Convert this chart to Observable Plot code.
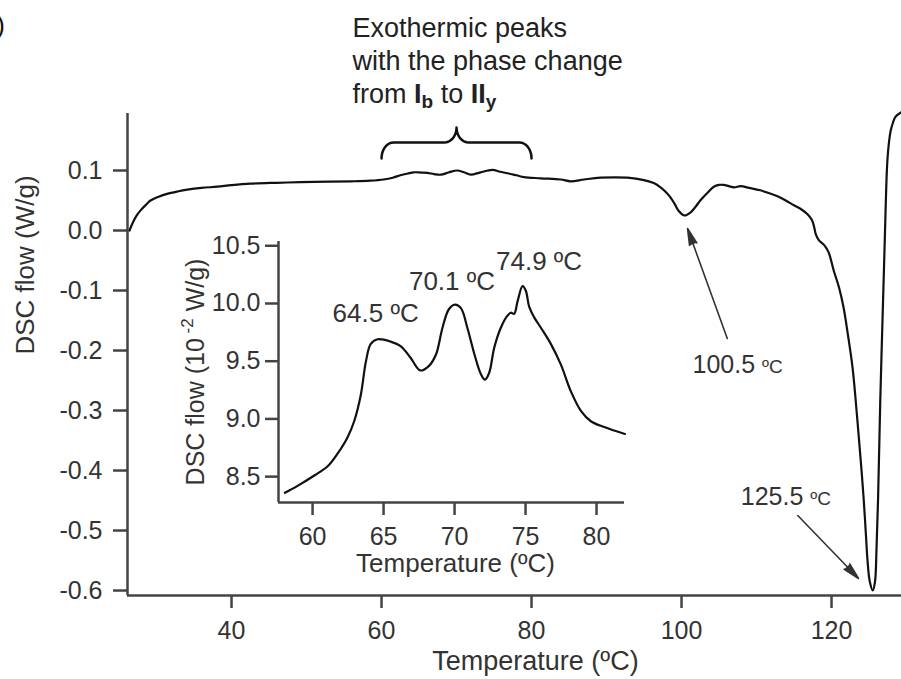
<!DOCTYPE html>
<html><head><meta charset="utf-8">
<script src="https://cdn.jsdelivr.net/npm/d3@7"></script>
<script src="https://cdn.jsdelivr.net/npm/@observablehq/plot@0.6"></script>
<style>
body{margin:0;background:#fff}
#wrap{position:relative;width:901px;height:679px;overflow:hidden;background:#fff}
#main{position:absolute;left:0;top:0}
#inset{position:absolute;left:170px;top:225px}
</style></head><body><div id="wrap"><div id="main"></div><div id="inset"></div></div>
<script>
// ---------- data ----------
const mainTemp = [26.4,26.8,27.3,27.9,28.6,29.2,30.2,31.4,32.8,34.1,36.0,38.1,40.0,42.5,46.0,49.2,53.0,56.0,58.5,60.3,61.5,62.5,63.5,64.3,65.3,66.1,67.0,67.9,69.0,70.1,71.0,71.9,73.2,74.8,75.8,76.8,78.0,79.0,81.2,83.9,85.2,87.0,89.2,92.8,95.0,96.3,97.2,98.0,98.5,99.1,99.6,100.4,101.2,101.9,102.5,103.4,104.3,105.0,105.6,106.3,107.0,107.9,109.0,110.5,112.8,113.9,115.0,116.0,116.8,117.4,117.7,117.9,118.3,119.0,119.6,120.3,121.0,121.6,122.2,122.8,123.2,123.6,124.0,124.3,124.6,124.8,125.1,125.5,125.8,126.0,126.2,126.5,126.75,127.0,127.2,127.4,127.6,127.9,128.2,128.5,129.3];
const mainFlow = [0.000,0.012,0.024,0.034,0.043,0.050,0.056,0.061,0.065,0.068,0.071,0.073,0.0755,0.078,0.0795,0.0805,0.0815,0.082,0.083,0.085,0.088,0.092,0.095,0.097,0.0965,0.096,0.094,0.093,0.097,0.100,0.097,0.093,0.097,0.101,0.098,0.0955,0.092,0.089,0.087,0.085,0.082,0.085,0.088,0.088,0.084,0.079,0.072,0.063,0.0555,0.044,0.033,0.025,0.030,0.040,0.050,0.062,0.073,0.076,0.076,0.074,0.072,0.074,0.071,0.067,0.057,0.050,0.042,0.035,0.027,0.017,0.005,-0.006,-0.016,-0.024,-0.036,-0.067,-0.095,-0.128,-0.175,-0.228,-0.28,-0.339,-0.40,-0.45,-0.51,-0.55,-0.585,-0.600,-0.585,-0.53,-0.45,-0.283,-0.17,-0.061,0.03,0.1055,0.14,0.167,0.18,0.189,0.197];

const insetTemp = [58.05,58.94,60.12,61.06,61.76,62.46,62.93,63.40,63.76,64.1,64.58,65.5,66.2,66.9,67.58,68.2,68.7,69.15,69.6,70.02,70.45,70.9,71.4,71.85,72.14,72.44,72.8,73.26,73.7,73.97,74.2,74.44,74.79,75.02,75.26,75.61,76.08,76.78,77.49,78.19,78.9,79.6,80.54,82.0];
const insetFlow = [8.36,8.42,8.51,8.59,8.70,8.84,8.98,9.21,9.50,9.65,9.69,9.67,9.63,9.53,9.42,9.46,9.56,9.79,9.95,9.99,9.96,9.79,9.56,9.39,9.34,9.40,9.62,9.79,9.89,9.92,9.91,10.02,10.15,10.11,9.97,9.88,9.79,9.65,9.47,9.24,9.07,8.98,8.93,8.87];

const mainXDomain = [26.13, 129.33];
const mainYDomain = [-0.6083, 0.195];
const mainXTicks = [40, 60, 80, 100, 120];
const mainYTicks = [0.1, 0.0, -0.1, -0.2, -0.3, -0.4, -0.5, -0.6];
const insetXDomain = [57.6, 81.97];
const insetYDomain = [8.276, 10.537];
const insetXTicks = [60, 65, 70, 75, 80];
const insetYTicks = [8.5, 9.0, 9.5, 10.0, 10.5];

const mainXLabel = "Temperature (ºC)";
const mainYLabel = "DSC flow (W/g)";
const insetXLabel = "Temperature (ºC)";
const insetYLabel = "DSC flow (10^-2 W/g)";

const peakLabels = ["64.5 ºC", "70.1 ºC", "74.9 ºC"];
const peakLabelTemp = [64.44, 69.82, 75.95];
const peakLabelFlow = [9.84, 10.113, 10.286];

const noteLines = ["Exothermic peaks", "with the phase change", "from Ib to IIy"];
const noteTemp = [56.13, 56.13, 56.13];
const noteFlow = [0.3217, 0.2667, 0.2133];

const braceSpan = [60, 80];
const braceLevels = [0.12, 0.1467, 0.1717];

const arrowLabels = ["100.5 ºC", "125.5 ºC"];
const arrowLabelTemp = [101.47, 107.9];
const arrowLabelFlow = [-0.2367, -0.458];
const arrowFromTemp = [106.1, 115.5];
const arrowFromFlow = [-0.18, -0.475];
const arrowToTemp = [100.8, 123.6];
const arrowToFlow = [0.0033, -0.58];

const panelTag = ["(b)"];
const panelTagTemp = [9.77];
const panelTagFlow = [0.3267];

// ---------- build ----------
const FONT = "'Liberation Sans', Arial, Helvetica, sans-serif";
const AX = "#444";
const mainData = mainTemp.map((t, i) => ({t, v: mainFlow[i]}));
const insetData = insetTemp.map((t, i) => ({t, v: insetFlow[i]}));

// brace shape from its span and levels
const bracePts = [];
(function(){
  const [a, b] = braceSpan, [lo, mid, hi] = braceLevels, r = 1.6, n = 10;
  const mid0 = (a + b) / 2;
  for (let k = 0; k <= n; k++) { const th = Math.PI - k * Math.PI / 2 / n; bracePts.push({t: a + r * (1 + Math.cos(th)), v: lo + (mid - lo) * Math.sin(th)}); }
  for (let k = 0; k <= n; k++) { const th = 1.5 * Math.PI + k * Math.PI / 2 / n; bracePts.push({t: mid0 - r + r * Math.cos(th), v: hi + (hi - mid) * Math.sin(th)}); }
  for (let k = 0; k <= n; k++) { const th = Math.PI + k * Math.PI / 2 / n; bracePts.push({t: mid0 + r + r * Math.cos(th), v: hi + (hi - mid) * Math.sin(th)}); }
  for (let k = 0; k <= n; k++) { const th = Math.PI / 2 - k * Math.PI / 2 / n; bracePts.push({t: b - r + r * Math.cos(th), v: lo + (mid - lo) * Math.sin(th)}); }
})();

const arrows = arrowFromTemp.map((t, i) => ({x1: t, y1: arrowFromFlow[i], x2: arrowToTemp[i], y2: arrowToFlow[i]}));

const main = Plot.plot({
  width: 901, height: 679,
  marginLeft: 127, marginTop: 113, marginBottom: 84, marginRight: 0,
  style: {fontFamily: FONT, fontSize: "25px", color: "#333", background: "white", overflow: "visible"},
  x: {domain: mainXDomain},
  y: {domain: mainYDomain},
  marks: [
    Plot.axisX({ticks: mainXTicks, tickSize: 13, tickPadding: 13, tickFormat: d => String(d), label: null, stroke: AX, strokeWidth: 2.5, fontSize: 25}),
    Plot.axisY({ticks: mainYTicks, tickSize: 14, tickPadding: 11, tickFormat: d => d.toFixed(1), label: null, stroke: AX, strokeWidth: 2.5, fontSize: 25}),
    Plot.ruleX([mainXDomain[0]], {stroke: AX, strokeWidth: 2.5}),
    Plot.ruleY([mainYDomain[0]], {stroke: AX, strokeWidth: 2.5}),
    Plot.line(mainData, {x: "t", y: "v", curve: "catmull-rom", stroke: "#111", strokeWidth: 2.2}),
    Plot.line(bracePts, {x: "t", y: "v", stroke: "#111", strokeWidth: 2.5}),
    Plot.text(noteLines, {x: (d, i) => noteTemp[i], y: (d, i) => noteFlow[i], text: d => d, textAnchor: "start", lineAnchor: "bottom", fontSize: 27, fill: "#222"}),
    Plot.arrow(arrows, {x1: "x1", y1: "y1", x2: "x2", y2: "y2", stroke: "#333", strokeWidth: 1.6, headAngle: 26, headLength: 16}),
    Plot.text(arrowLabels, {x: (d, i) => arrowLabelTemp[i], y: (d, i) => arrowLabelFlow[i], text: d => d, textAnchor: "start", lineAnchor: "bottom", fontSize: 25, fill: "#333"}),
    Plot.text(panelTag, {x: (d, i) => panelTagTemp[i], y: (d, i) => panelTagFlow[i], text: d => d, textAnchor: "end", lineAnchor: "bottom", fontSize: 26, fill: "#111"}),
    Plot.text([mainXLabel], {frameAnchor: "bottom", dx: 21, dy: 66, text: d => d, lineAnchor: "middle", fontSize: 27, fill: "#333"}),
    Plot.text([mainYLabel], {frameAnchor: "left", dx: -102, rotate: -90, text: d => d, lineAnchor: "middle", fontSize: 26, fill: "#333"})
  ]
});

const inset = Plot.plot({
  width: 470, height: 375,
  marginLeft: 108, marginTop: 16, marginRight: 16, marginBottom: 98,
  style: {fontFamily: FONT, fontSize: "25px", color: "#333", background: "transparent", overflow: "visible"},
  x: {domain: insetXDomain},
  y: {domain: insetYDomain},
  marks: [
    Plot.axisX({ticks: insetXTicks, tickSize: 13, tickPadding: 12, tickFormat: d => String(d), label: null, stroke: AX, strokeWidth: 2.5, fontSize: 25}),
    Plot.axisY({ticks: insetYTicks, tickSize: 13, tickPadding: 5, tickFormat: d => d.toFixed(1), label: null, stroke: AX, strokeWidth: 2.5, fontSize: 25}),
    Plot.ruleX([insetXDomain[0]], {stroke: AX, strokeWidth: 2.5}),
    Plot.ruleY([insetYDomain[0]], {stroke: AX, strokeWidth: 2.5}),
    Plot.line(insetData, {x: "t", y: "v", curve: "catmull-rom", stroke: "#111", strokeWidth: 2.2}),
    Plot.text(peakLabels, {x: (d, i) => peakLabelTemp[i], y: (d, i) => peakLabelFlow[i], text: d => d, textAnchor: "middle", lineAnchor: "bottom", fontSize: 26, fill: "#333"}),
    Plot.text([insetXLabel], {frameAnchor: "bottom", dx: 4, dy: 61, text: d => d, lineAnchor: "middle", fontSize: 26, fill: "#333"}),
    Plot.text([insetYLabel], {frameAnchor: "left", dx: -83, rotate: -90, text: d => d, lineAnchor: "middle", fontSize: 25, fill: "#333"})
  ]
});

document.getElementById("main").appendChild(main);
document.getElementById("inset").appendChild(inset);

// filled arrowheads
for (const p of main.querySelectorAll('g[aria-label="arrow"] path')) p.setAttribute("fill", "#333");

// ---------- rich text (sub/superscripts) ----------
const NS = "http://www.w3.org/2000/svg";
function rebuild(el, parts, anchor) {
  while (el.firstChild) el.removeChild(el.firstChild);
  for (const p of parts) {
    const ts = document.createElementNS(NS, "tspan");
    ts.textContent = p.t;
    if (p.w) ts.setAttribute("font-weight", p.w);
    if (p.s) ts.setAttribute("font-size", p.s);
    if (p.dy) ts.setAttribute("dy", p.dy);
    el.appendChild(ts);
  }
  if (anchor) el.setAttribute("text-anchor", anchor);
}
for (const el of document.querySelectorAll("svg text")) {
  const s = el.textContent;
  if (s === "from Ib to IIy") {
    rebuild(el, [{t: "from "}, {t: "I", w: "bold"}, {t: "b", w: "bold", s: 19, dy: 5}, {t: " to ", dy: -5}, {t: "II", w: "bold"}, {t: "y", w: "bold", s: 19, dy: 5}], "start");
  } else if (s === "DSC flow (10^-2 W/g)") {
    rebuild(el, [{t: "DSC flow (10"}, {t: " -2", s: 17, dy: -11}, {t: " W/g)", dy: 11}], "middle");
  } else if (s === "100.5 ºC" || s === "125.5 ºC") {
    const [num] = s.split(" ");
    rebuild(el, [{t: num + " "}, {t: "ºC", s: 19}], "start");
  }
}
</script></body></html>
